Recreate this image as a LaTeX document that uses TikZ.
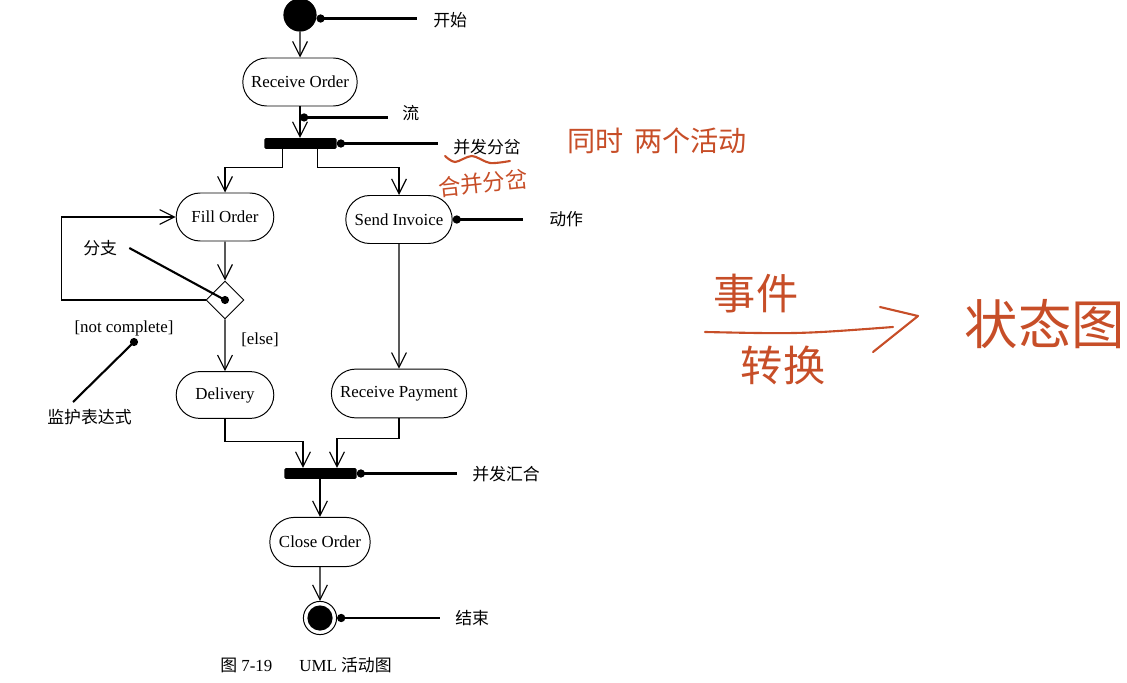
\documentclass[tikz,border=0pt]{standalone}
\usepackage{fontspec}
\setmainfont{Liberation Serif}
\newfontfamily\cjk{Noto Sans CJK SC}
\usetikzlibrary{positioning,calc,arrows.meta,shapes.misc,shapes.geometric}
\definecolor{InkRed}{RGB}{199,78,40}

\begin{document}
\begin{tikzpicture}[
    x=0.025cm, y=-0.025cm,
    font=\fontsize{12}{14}\selectfont,
    activity/.style={
        draw,
        rounded rectangle,
        line width=0.7pt,
        align=center,
        minimum height=1.2cm,
        inner xsep=2pt
    },
    bar/.style={
        fill=black,
        rounded corners=1pt,
        minimum width=1.8cm,
        minimum height=0.27cm,
        inner sep=0pt
    },
    note/.style={
        font=\cjk\fontsize{12}{14}\selectfont,
        anchor=west,
        inner sep=0pt
    },
    dot/.style={
        circle,
        fill=black,
        inner sep=0pt,
        minimum size=5.8pt
    },
    flow/.style={
        -{Straight Barb[length=3.7mm,width=3.7mm]},
        line width=0.8pt
    },
    callout/.style={
        {Circle[length=5.8pt]}-,
        line width=1.5pt
    },
    guard/.style={
        line width=1.5pt
    },
    ink/.style={
        draw=InkRed,
        line width=1.5pt,
        line cap=round,
        line join=round
    },
    inktext/.style={
        text=InkRed,
        inner sep=0pt
    }
]
\useasboundingbox (0,0) rectangle (1127,683);

% =========================
% start, receive order, fork
% =========================
\node[circle, fill=black, minimum size=0.83cm, inner sep=0pt] (start) at (300,15) {};
\node[activity, minimum width=3cm] (recv) at (300,82) {Receive Order};
\node[bar] (fork) at (300.5,143.5) {};

\draw[flow] (start) -- (recv);
\draw[flow] (recv.south) -- (recv.south |- fork.north);

\node[note] (startlbl) at (433,20) {开始};
\draw[callout] (start.-12) -- ($(start.-12 -| startlbl.west)+(-16,0)$);

\coordinate (flowpt) at ($(recv.south)!0.35!(recv.south |- fork.north)$);
\node[note] (flowlbl) at (402,113) {流};
\draw[callout] (flowpt) -- ($(flowpt -| flowlbl.west)+(-14,0)$);

\node[note] (forklbl) at (453,147) {并发分岔};
\draw[callout] (fork.east) -- ($(fork.east -| forklbl.west)+(-15,0)$);

% =========================
% left branch: fill order, loop, delivery
% =========================
\node[activity, minimum width=2.58cm] (fill) at (225,217) {Fill Order};
\node[diamond, draw, line width=0.7pt, minimum width=0.95cm, minimum height=0.95cm, inner sep=0pt] (branch) at (225,300) {};
\node[activity, minimum width=2.58cm, minimum height=1.17cm] (delivery) at (225,395) {Delivery};

\draw[flow] ($(fork.south)+(-18,0)$) -- ++(0,18) -| (fill.north);
\draw[flow] (fill) -- (branch);
\draw[flow] (branch.west) -- ++(-144,0) |- (fill.west);
\draw[flow] (branch) -- (delivery);

\node[dot] (branchdot) at (branch.center) {};
\node[note] (branchlbl) at (83,248) {分支};
\draw[guard] ($(branchlbl.east)+(12,0)$) -- (branchdot.center);

\node (notcomplete) at (124,328) {[not complete]};
\node (elselbl) at (260,340) {[else]};

\coordinate (guardpt) at (134,342);
\coordinate (guardend) at (73,402);
\node[dot] at (guardpt) {};
\node[note] (guardlbl) at (47,417) {监护表达式};
\draw[guard] (guardpt) -- (guardend);

% =========================
% right branch: send invoice, receive payment
% =========================
\node[activity, minimum width=2.8cm] (invoice) at (399,219.5) {Send Invoice};
\node[activity, minimum width=3.52cm, minimum height=1.22cm] (payment) at (399,393.5) {Receive Payment};

\draw[flow] ($(fork.south)+(17,0)$) -- ++(0,18) -| (invoice.north);
\draw[flow] (invoice) -- (payment);

\node[note] (actionlbl) at (549,219) {动作};
\draw[callout] (invoice.east) -- ($(invoice.east -| actionlbl.west)+(-26,0)$);

% =========================
% join, close order, end
% =========================
\node[bar] (join) at (320.5,473.5) {};
\node[activity, minimum width=2.65cm, minimum height=1.23cm] (close) at (320,542) {Close Order};
\node[circle, draw, line width=0.7pt, minimum size=0.83cm, inner sep=0pt] (final) at (320,618) {};
\node[circle, fill=black, minimum size=0.63cm, inner sep=0pt] (finaldot) at (final.center) {};

\draw[flow] (delivery.south) -- ++(0,23) -| ($(join.north)+(-17.5,0)$);
\draw[flow] (payment.south) -- ++(0,20) -| ($(join.north)+(16.5,0)$);
\draw[flow] (join.south -| close.north) -- (close.north);
\draw[flow] (close) -- (final);

\node[note] (joinlbl) at (472,474) {并发汇合};
\draw[callout] (join.east) -- ($(join.east -| joinlbl.west)+(-15,0)$);

\node[note] (finallbl) at (455,618) {结束};
\draw[callout] (final.east) -- ($(final.east -| finallbl.west)+(-15,0)$);

\node (caption) at (306,665) {{\cjk 图} 7-19\hspace{1.6em}UML {\cjk 活动图}};

% =========================
% handwritten notes
% =========================
\node[inktext, font=\cjk\fontsize{20}{22}\selectfont] (samelbl) at (657,141) {同时\hspace{0.4em}两个活动};
\draw[ink] plot[smooth] coordinates {(445,156) (455,162) (472,156) (490,163) (510,161)};
\node[inktext, font=\cjk\fontsize{16}{18}\selectfont, rotate=6] (mergelbl) at (483,183) {合并分岔};

\node[inktext, font=\cjk\fontsize{30}{32}\selectfont] (eventlbl) at (756,294) {事件};
\node[inktext, font=\cjk\fontsize{30}{32}\selectfont] (translbl) at (783,365) {转换};
\node[inktext, font=\cjk\fontsize{38}{40}\selectfont] (statelbl) at (1045,324) {状态图};

\coordinate (inktail) at (705,332);
\coordinate (inktip) at (918,316);
\draw[ink] (inktail) .. controls (800,334) .. (893,327);
\draw[ink] (880,307) -- (inktip) -- (873,352);

\end{tikzpicture}
\end{document}
